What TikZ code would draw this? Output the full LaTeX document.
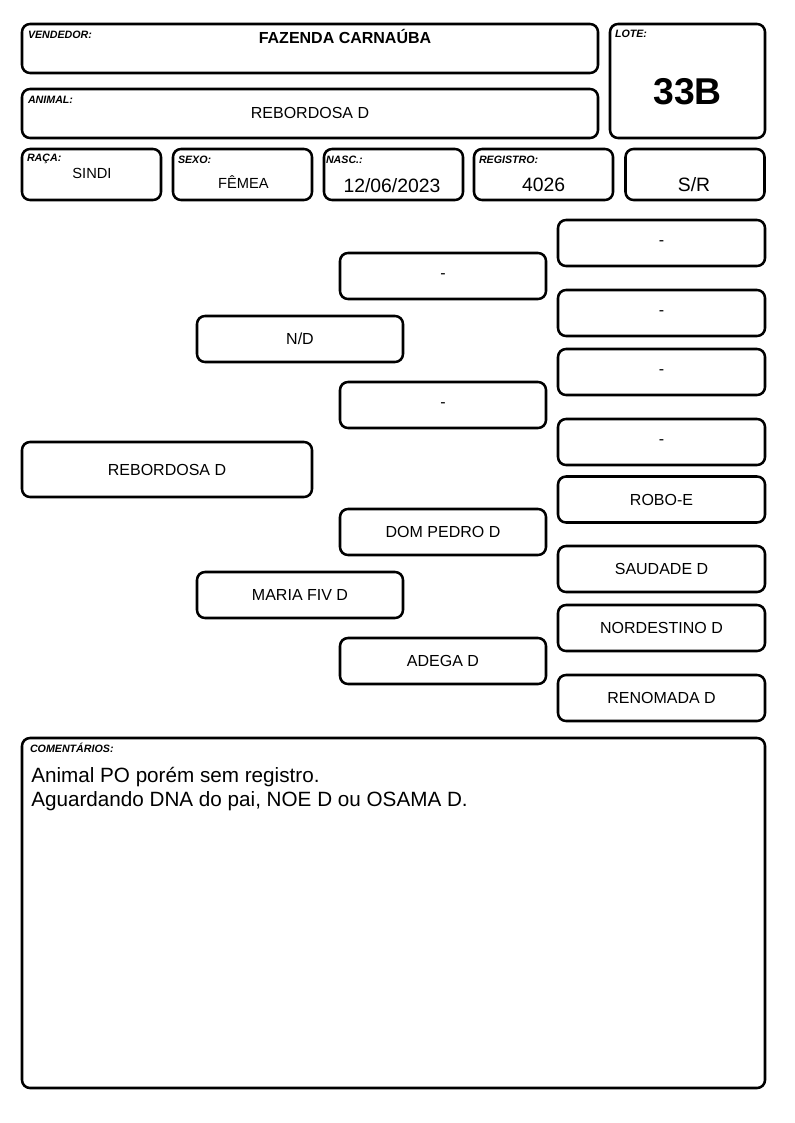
\documentclass[tikz,border=0pt]{standalone}
\usepackage{fontspec}
\setmainfont{Liberation Sans}
\begin{document}
\begin{tikzpicture}[x=0.75pt,y=-0.75pt,
  box/.style={draw,line width=1.9pt,rounded corners=6pt,inner sep=0pt},
  ped/.style={box,minimum width=206*0.75pt,minimum height=46*0.75pt,font=\fontsize{12}{14}\selectfont},
  lbl/.style={anchor=base west,inner sep=0pt,font=\bfseries\itshape\fontsize{8}{9}\selectfont},
  val/.style={anchor=base,inner sep=0pt,font=\fontsize{14.5}{16}\selectfont},
  sval/.style={anchor=base,inner sep=0pt,font=\fontsize{11}{13}\selectfont}]
\useasboundingbox (0,0) rectangle (794,1123);

% header boxes
\node[box,minimum width=576*0.75pt,minimum height=49*0.75pt] (vend) at (310,48.5) {};
\node[box,minimum width=576*0.75pt,minimum height=49*0.75pt] (anim) at (310,113.5) {};
\node[box,minimum width=155*0.75pt,minimum height=114*0.75pt] (lote) at (687.5,81) {};
\foreach \x/\n in {91.5/raca,242.5/sexo,393.5/nasc,543.5/reg,695/sr}
\node[box,minimum width=139*0.75pt,minimum height=51*0.75pt] (\n) at (\x,174.5) {};

\node[lbl] (vendlbl) at ([shift={(7,16)}]vend.north west) {VENDEDOR:};
\node[lbl] (animlbl) at ([shift={(7,16)}]anim.north west) {ANIMAL:};
\node[lbl] (lotelbl) at ([shift={(6,15)}]lote.north west) {LOTE:};
\node[lbl] (racalbl) at ([shift={(6,14)}]raca.north west) {RAÇA:};
\node[lbl] (sexolbl) at ([shift={(6,16)}]sexo.north west) {SEXO:};
\node[lbl] (nasclbl) at ([shift={(3,16)}]nasc.north west) {NASC.:};
\node[lbl] (reglbl) at ([shift={(6,16)}]reg.north west) {REGISTRO:};

\node[anchor=base,inner sep=0pt,font=\bfseries\fontsize{12}{14}\selectfont] (vendval) at (345,43.3) {FAZENDA CARNAÚBA};
\node[anchor=base,inner sep=0pt,font=\fontsize{12}{14}\selectfont] (animval) at (310,119) {REBORDOSA D};
\node[anchor=base,inner sep=0pt,font=\bfseries\fontsize{28}{30}\selectfont] (loteval) at (687.5,104.3) {33B};
\node[sval] (racaval) at (92,178.3) {SINDI};
\node[sval] (sexoval) at (243.5,189) {FÊMEA};
\node[val] (nascval) at (392,192.3) {12/06/2023};
\node[val] (regval) at (543.5,191.7) {4026};
\node[val] (srval) at (694,191.7) {S/R};

% pedigree
\node[ped,minimum width=290*0.75pt,minimum height=55*0.75pt] (animal) at (167,469.5) {REBORDOSA D};
\node[ped] (pai) at (300,339) {N/D};
\node[ped] (mae) at (300,595) {MARIA FIV D};
\foreach \y/\txt [count=\i] in {276/-,405/-,532/DOM PEDRO D,661/ADEGA D}
\node[ped] (avo\i) at (443,\y) {\txt};
\foreach \y/\txt [count=\i] in {243/-,313/-,372/-,442/-,499.5/ROBO-E,569/SAUDADE D,628/NORDESTINO D,698/RENOMADA D}
\node[ped,minimum width=207*0.75pt] (bis\i) at (661.5,\y) {\txt};

% comments
\node[box,minimum width=743*0.75pt,minimum height=350*0.75pt] (com) at (393.5,913) {};
\node[lbl] (comlbl) at ([shift={(9,16)}]com.north west) {COMENTÁRIOS:};
\node[anchor=base west,inner sep=0pt,font=\fontsize{15.5}{18}\selectfont] (com1) at (31,782) {Animal PO porém sem registro.};
\node[anchor=base west,inner sep=0pt,font=\fontsize{15.5}{18}\selectfont] (com2) at (31,806) {Aguardando DNA do pai, NOE D ou OSAMA D.};

\end{tikzpicture}
\end{document}
